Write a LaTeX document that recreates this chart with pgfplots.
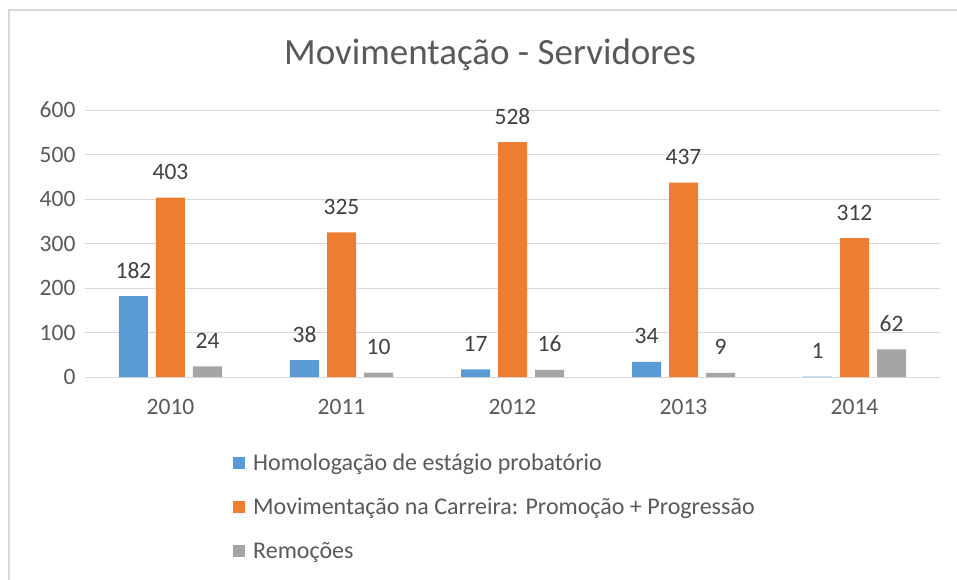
\documentclass[border=0pt]{standalone}
\usepackage{pgfplots}
\pgfplotsset{compat=1.18}
\usepackage{fontspec}
\setmainfont{Carlito}
\definecolor{cblue}{HTML}{5B9BD5}
\definecolor{corange}{HTML}{ED7D31}
\definecolor{cgray}{HTML}{A5A5A5}
\definecolor{cgrid}{HTML}{D9D9D9}
\definecolor{ctext}{HTML}{595959}
\definecolor{clabel}{HTML}{404040}
\begin{document}
\begin{tikzpicture}
\path[use as bounding box] (-85bp,-203bp) rectangle (872bp,377bp);
\fill[white] (-85bp,-203bp) rectangle (872bp,377bp);
\draw[cgrid, line width=1.5bp] (-76bp,-203bp) -- (-76bp,367bp) -- (872bp,367bp);
\node[font=\fontsize{37bp}{42bp}\selectfont, text=ctext] at (405bp,322bp) {Movimentação - Servidores};
\begin{axis}[
  at={(0,0)}, anchor=south west,
  scale only axis, width=855bp, height=267bp,
  ybar=8bp, bar width=29bp,
  xmin=-0.5, xmax=4.5, ymin=0, ymax=600,
  xtick={0,1,2,3,4}, xticklabels={2010,2011,2012,2013,2014},
  ytick={0,100,...,600},
  ymajorgrids, grid style={cgrid, line width=1bp},
  axis x line=bottom, axis y line=left,
  axis line style={-},
  x axis line style={draw=cgrid, line width=1bp},
  y axis line style={draw=none},
  major tick length=0pt,
  tick label style={font=\fontsize{23.5bp}{27bp}\selectfont, text=ctext},
  /pgf/number format/assume math mode=true,
  yticklabel style={xshift=-6bp},
  xticklabel style={yshift=-19bp},
  nodes near coords,
  every node near coord/.append style={font=\fontsize{23.5bp}{27bp}\selectfont, text=clabel, anchor=base, inner sep=0pt, yshift=18bp},
  legend style={at={(145bp,-73bp)}, anchor=north west, draw=none, fill=none,
    font=\fontsize{24bp}{28bp}\selectfont, text=ctext, row sep=22bp,
    legend cell align=left, cells={anchor=west}},
  legend image code/.code={\fill[#1] (0bp,-6bp) rectangle (12bp,6bp); \path (18bp,0bp);},
]
\addplot[fill=cblue, draw=none] coordinates {(0,182) (1,38) (2,17) (3,34) (4,1)};
\addplot[fill=corange, draw=none] coordinates {(0,403) (1,325) (2,528) (3,437) (4,312)};
\addplot[fill=cgray, draw=none] coordinates {(0,24) (1,10) (2,16) (3,9) (4,62)};
\legend{Homologação de estágio probatório, Movimentação na Carreira: Promoção + Progressão, Remoções}
\end{axis}
\end{tikzpicture}
\end{document}
